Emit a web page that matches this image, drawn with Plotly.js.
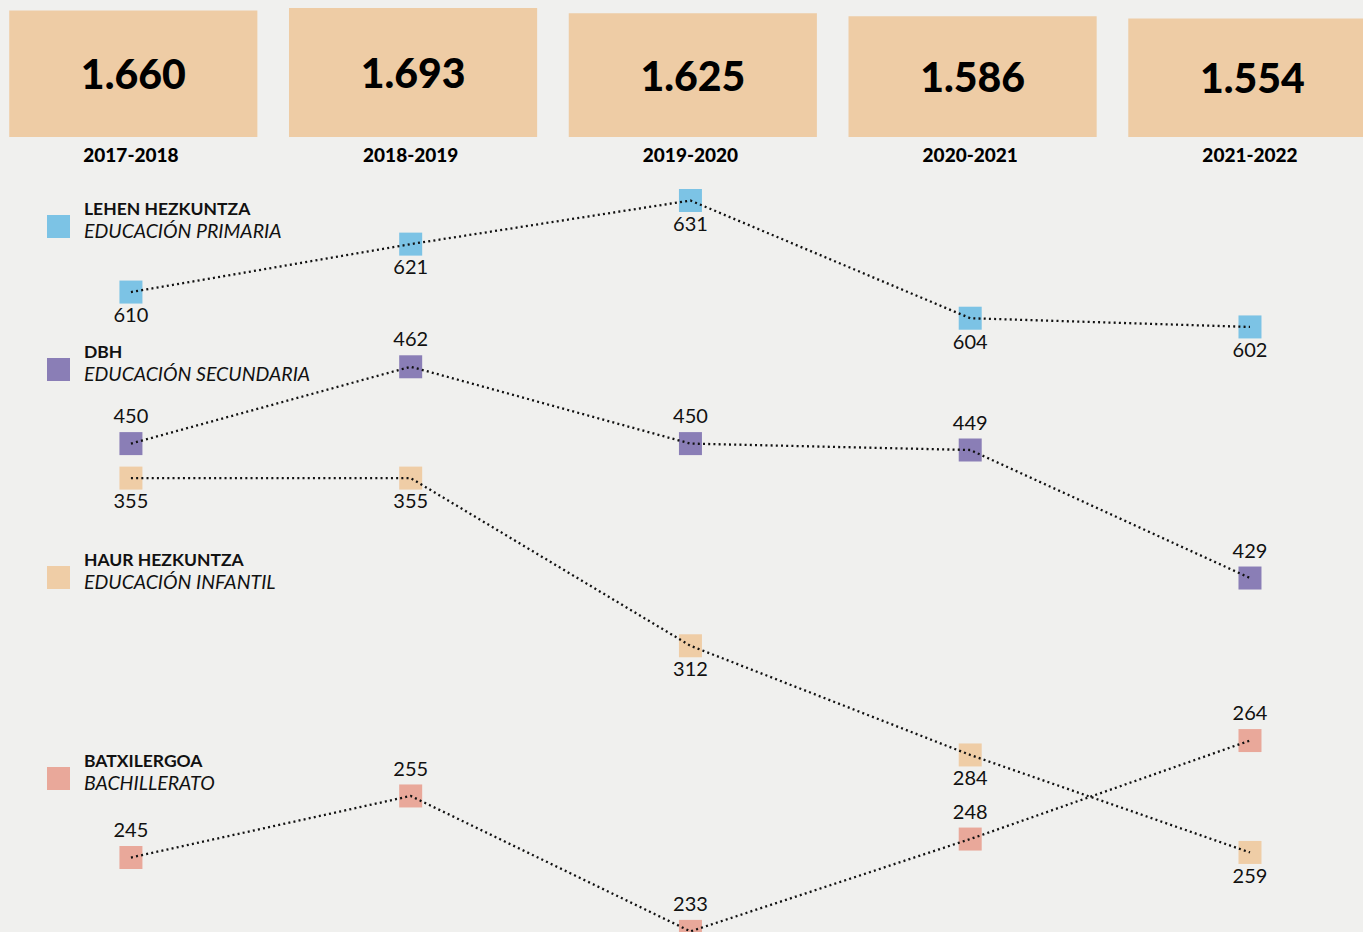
<!DOCTYPE html>
<html>
<head>
<meta charset="utf-8">
<script src="https://cdn.plot.ly/plotly-3.0.1.min.js"></script>
<style>html,body{margin:0;padding:0;background:#F0F0EE;}#chart{width:1363px;height:932px;}</style>
</head>
<body>
<div id="chart"></div>
<script>
// ---- data ----
const years = ['2017-2018', '2018-2019', '2019-2020', '2020-2021', '2021-2022'];
const totals = [1660, 1693, 1625, 1586, 1554];
const primaria = [610, 621, 631, 604, 602];
const dbh = [450, 462, 450, 449, 429];
const infantil = [355, 355, 312, 284, 259];
const batxilergoa = [245, 255, 233, 248, 264];
const basqueNames = ['LEHEN HEZKUNTZA', 'DBH', 'HAUR HEZKUNTZA', 'BATXILERGOA'];
const spanishNames = ['EDUCACIÓN PRIMARIA', 'EDUCACIÓN SECUNDARIA', 'EDUCACIÓN INFANTIL', 'BACHILLERATO'];

// ---- styling ----
const W = 1363, H = 932;
const FONT = 'Lato, "Noto Sans", sans-serif';
const BG = '#F0F0EE';
const colors = ['#7CC3E5', '#8A7EB6', '#EFCDA6', '#E9A89A'];
const seriesValues = [primaria, dbh, infantil, batxilergoa];
const labelPos = ['bottom center', 'top center', 'bottom center', 'top center'];
const axisIds = ['y', 'y2', 'y3', 'y4'];
const axisRanges = [[463.2, 677.0], [373.7, 519.3], [238.6, 477.6], [232.9, 384.3]];
const legendCenterY = [220, 363, 571, 772];

const traces = [];
// totals bars
traces.push({
  type: 'bar', x: years, y: totals, xaxis: 'x', yaxis: 'y5',
  width: 0.887, offset: -0.435, marker: {color: '#EECCA5', line: {width: 0}},
  texttemplate: '%{y:,.0f}', textposition: 'inside', insidetextanchor: 'middle',
  textfont: {family: FONT, size: 41, color: '#000', weight: 900},
  hoverinfo: 'skip', showlegend: false
});
// markers with labels
seriesValues.forEach((vals, i) => {
  traces.push({
    type: 'scatter', mode: 'markers+text', x: years, y: vals, yaxis: axisIds[i],
    marker: {symbol: 'square', size: 23, color: colors[i], line: {width: 0}},
    text: vals.map(String), textposition: labelPos[i],
    textfont: {family: FONT, size: 20, color: '#111'},
    showlegend: false, hoverinfo: 'skip'
  });
});
// dotted connectors drawn on top
seriesValues.forEach((vals, i) => {
  traces.push({
    type: 'scatter', mode: 'lines', x: years, y: vals, yaxis: axisIds[i],
    line: {color: '#111', width: 2.3, dash: '2px,3.2px'},
    showlegend: false, hoverinfo: 'skip'
  });
});

const shapes = [], annotations = [];
basqueNames.forEach((nm, i) => {
  const cy = legendCenterY[i];
  shapes.push({
    type: 'rect', xref: 'paper', yref: 'paper', layer: 'above',
    x0: 47 / W, x1: 70 / W, y0: 1 - (cy + 18) / H, y1: 1 - (cy - 5) / H,
    fillcolor: colors[i], line: {width: 0}
  });
  annotations.push({
    xref: 'paper', yref: 'paper', x: 82 / W, y: 1 - cy / H,
    xanchor: 'left', yanchor: 'middle', align: 'left', showarrow: false,
    text: '<b>' + nm + '</b><br><i><span style="font-size:19.5px">' + spanishNames[i] + '</span></i>',
    font: {family: FONT, size: 17.5, color: '#111'}
  });
});

const hidden = {visible: false, fixedrange: true, showgrid: false, zeroline: false};
const layout = {
  width: W, height: H,
  margin: {l: 0, r: 0, t: 0, b: 0, pad: 0},
  paper_bgcolor: BG, plot_bgcolor: BG,
  separators: ',.',
  showlegend: false,
  font: {family: FONT, color: '#111'},
  xaxis: {
    type: 'category', categoryarray: years, range: [-0.468, 4.404],
    anchor: 'y5', showgrid: false, zeroline: false, showline: false, ticks: '',
    tickfont: {family: FONT, size: 19, color: '#000', weight: 900},
    ticklabelstandoff: 5, fixedrange: true
  },
  yaxis: Object.assign({range: axisRanges[0], domain: [0, 1]}, hidden),
  yaxis2: Object.assign({range: axisRanges[1], overlaying: 'y'}, hidden),
  yaxis3: Object.assign({range: axisRanges[2], overlaying: 'y'}, hidden),
  yaxis4: Object.assign({range: axisRanges[3], overlaying: 'y'}, hidden),
  yaxis5: Object.assign({range: [0, 1798], domain: [1 - 137 / H, 1], anchor: 'x'}, hidden),
  shapes: shapes, annotations: annotations
};

Plotly.newPlot('chart', traces, layout, {displayModeBar: false, staticPlot: true});
</script>
</body>
</html>
